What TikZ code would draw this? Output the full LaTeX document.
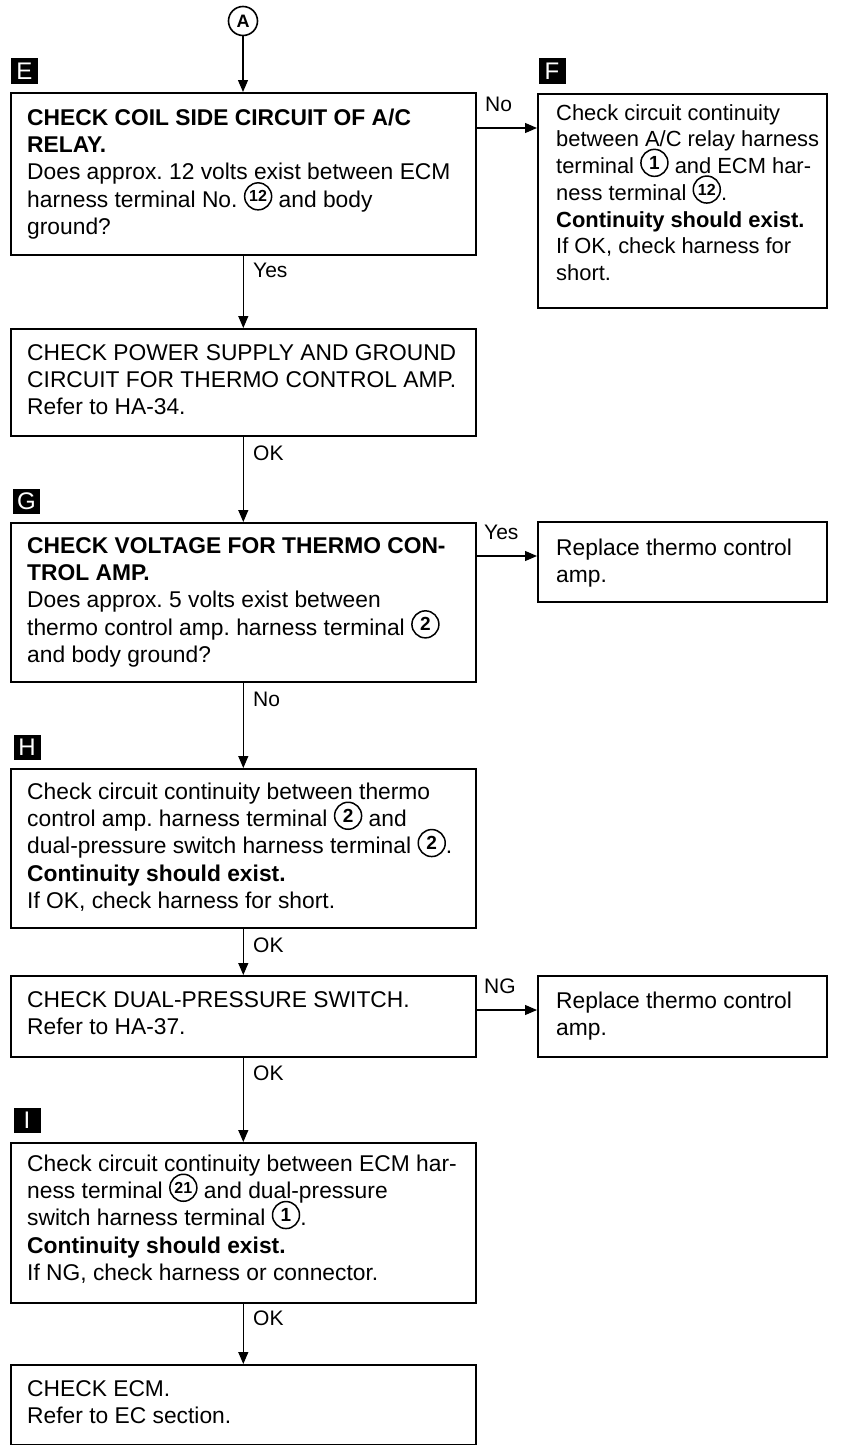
\documentclass[tikz,border=0pt]{standalone}
\usepackage{fontspec}
\setmainfont{Liberation Sans}
\usetikzlibrary{arrows.meta,calc}
\frenchspacing
\newcommand\cnum[2][19]{\smash{\tikz[baseline={([yshift=3.5pt]cn.south)}]\node[circle,draw,line width=1.5pt,inner sep=0pt,minimum size=27pt,font=\bfseries\fontsize{#1}{#1}\selectfont](cn){#2};}}
\newcommand\fs{\rule{0pt}{17pt}}
\begin{document}
\frenchspacing
\begin{tikzpicture}[x=1pt,y=-1pt,
  box/.style={draw,line width=1.6pt,anchor=north west,inner sep=0pt},
  txt/.style={anchor=north west,align=left,inner sep=0pt,font=\fontsize{22.8}{27.3}\selectfont},
  markbox/.style={fill=black,text=white,minimum width=27pt,minimum height=25pt,inner sep=0pt,font=\fontsize{24}{24}\selectfont},
  lbl/.style={inner sep=0pt,anchor=west,font=\fontsize{21}{21}\selectfont},
  arr/.style={line width=1.2pt,-{Triangle[length=12pt,width=10pt]}}]
\useasboundingbox (0,0) rectangle (847,1445);

% A connector
\node[circle,draw,line width=1.6pt,minimum size=29pt,inner sep=0pt,font=\bfseries\fontsize{18}{18}\selectfont] (a) at (243,21) {A};

% markers
\node[markbox] (me) at (24.5,71) {E};
\node[markbox] (mf) at (552,71) {F};
\node[markbox] (mg) at (26.5,501) {G};
\node[markbox] (mh) at (27,747) {H};
\node[markbox] (mi) at (27,1120) {I};

% boxes
\node[box,minimum width=465pt,minimum height=162pt] (e) at (10,92) {};
\node[box,minimum width=289pt,minimum height=214pt] (f) at (537,93) {};
\node[box,minimum width=465pt,minimum height=107pt] (b2) at (10,328) {};
\node[box,minimum width=465pt,minimum height=159pt] (g) at (10,522) {};
\node[box,minimum width=289pt,minimum height=80pt] (r1) at (537,521) {};
\node[box,minimum width=465pt,minimum height=159pt] (h) at (10,768) {};
\node[box,minimum width=465pt,minimum height=81pt] (b4) at (10,975) {};
\node[box,minimum width=289pt,minimum height=81pt] (r2) at (537,975) {};
\node[box,minimum width=465pt,minimum height=160pt] (i) at (10,1142) {};
\node[box,minimum width=465pt,minimum height=80pt] (last) at (10,1364) {};

% texts
\node[txt] (te) at (27,108) {\fs\textbf{CHECK COIL SIDE CIRCUIT OF A/C}\\\textbf{RELAY.}\\Does approx. 12 volts exist between ECM\\harness terminal No. \cnum[16]{12} and body\\ground?};
\node[txt,font=\fontsize{21.9}{26.7}\selectfont] (tf) at (556,103) {\fs Check circuit continuity\\between A/C relay harness\\terminal \cnum{1} and ECM har-\\ness terminal \cnum[16]{12}.\\\textbf{Continuity should exist.}\\If OK, check harness for\\short.};
\node[txt] (tb2) at (27,343) {\fs CHECK POWER SUPPLY AND GROUND\\CIRCUIT FOR THERMO CONTROL AMP.\\Refer to HA-34.};
\node[txt] (tg) at (27,536) {\fs\textbf{CHECK VOLTAGE FOR THERMO CON-}\\\textbf{TROL AMP.}\\Does approx. 5 volts exist between\\thermo control amp. harness terminal \cnum{2}\\and body ground?};
\node[txt] (tr1) at (556,538) {\fs Replace thermo control\\amp.};
\node[txt] (th) at (27,782) {\fs Check circuit continuity between thermo\\control amp. harness terminal \cnum{2} and\\dual-pressure switch harness terminal \cnum{2}.\\\textbf{Continuity should exist.}\\If OK, check harness for short.};
\node[txt] (tb4) at (27,990) {\fs CHECK DUAL-PRESSURE SWITCH.\\Refer to HA-37.};
\node[txt] (tr2) at (556,991) {\fs Replace thermo control\\amp.};
\node[txt] (ti) at (27,1154) {\fs Check circuit continuity between ECM har-\\ness terminal \cnum[16]{21} and dual-pressure\\switch harness terminal \cnum{1}.\\\textbf{Continuity should exist.}\\If NG, check harness or connector.};
\node[txt] (tl) at (27,1379) {\fs CHECK ECM.\\Refer to EC section.};

% vertical connectors
\draw[arr] (a.south) -- (a.south |- e.north);
\draw[arr] (e.south) -- (b2.north);
\draw[arr] (b2.south) -- (g.north);
\draw[arr] (g.south) -- (h.north);
\draw[arr] (h.south) -- (b4.north);
\draw[arr] (b4.south) -- (i.north);
\draw[arr] (i.south) -- (last.north);

% horizontal connectors
\draw[arr] ([yshift=-36pt]e.north east) coordinate (p1) -- (p1 -| f.west);
\draw[arr] ([yshift=-34pt]g.north east) coordinate (p2) -- (p2 -| r1.west);
\draw[arr] ([yshift=-35pt]b4.north east) coordinate (p3) -- (p3 -| r2.west);

% labels
\node[lbl] (l1) at (253,270) {Yes};
\node[lbl] (l2) at (253,453) {OK};
\node[lbl] (l3) at (253,699) {No};
\node[lbl] (l4) at (253,945) {OK};
\node[lbl] (l5) at (253,1073) {OK};
\node[lbl] (l6) at (253,1318) {OK};
\node[lbl] (l7) at (485,104) {No};
\node[lbl] (l8) at (484,532) {Yes};
\node[lbl] (l9) at (484,986) {NG};
\end{tikzpicture}
\end{document}
